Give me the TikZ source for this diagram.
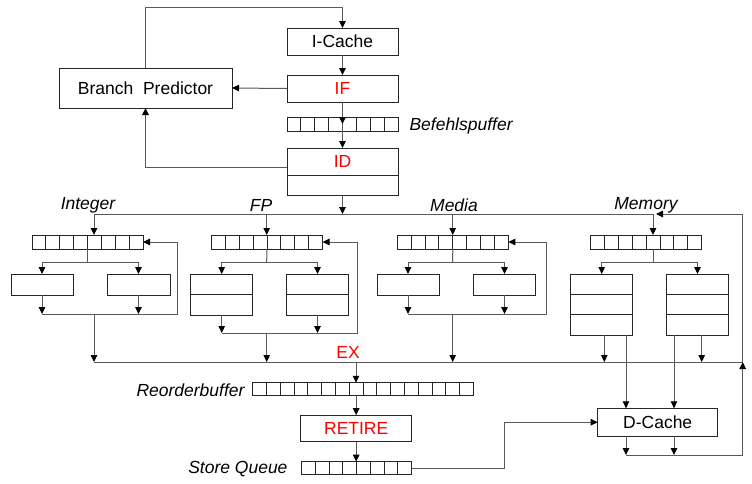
\documentclass[tikz,border=0pt]{standalone}
\usepackage{fontspec}
\setmainfont{Liberation Sans}
\usetikzlibrary{arrows.meta,positioning,calc}

\tikzset{
  unit/.style={draw=black!85, line width=1pt, inner sep=0pt, outer sep=0pt},
  stage/.style={unit, minimum width=111pt, minimum height=27pt},
  redstage/.style={stage, text=red},
  fifo/.style={unit, minimum width=111pt, minimum height=14pt},
  alu/.style={unit, minimum width=62pt, minimum height=21pt},
  fpcell/.style={unit, minimum width=62pt, minimum height=20.5pt},
  memcell/.style={unit, minimum width=62pt, minimum height=20.4pt},
  tag/.style={inner sep=0pt, font=\fontsize{17.5}{21}\selectfont\itshape},
  link/.style={draw=black!65, line width=1pt},
  flow/.style={link, ->}
}

% cell separators of a queue
\newcommand{\fifocells}[2]{%
  \pgfmathtruncatemacro\lastcell{#2-1}
  \foreach \k in {1,...,\lastcell}
    \draw[black!85] ($(#1.north west)!\k/#2!(#1.north east)$) -- ($(#1.south west)!\k/#2!(#1.south east)$);
}

\begin{document}
\begin{tikzpicture}[x=1pt, y=-1pt, line width=1pt,
    font=\fontsize{17.5}{21}\selectfont,
    >={Triangle[length=7pt,width=6.5pt,color=black]}]
  \useasboundingbox (0,0) rectangle (752,483);

  % front end
  \node[stage] (icache) at (342.5,41.5) {I-Cache};
  \node[redstage] (if) at (342.5,88.5) {IF};
  \node[unit, minimum width=173pt, minimum height=40pt] (bp) at (145.5,88) {Branch\ \ Predictor};
  \node[fifo] (befq) at (342.5,124) {};
  \fifocells{befq}{8}
  \node[tag, anchor=west] (beflbl) at (409,126) {Befehlspuffer};
  \node[redstage] (id) at (342.5,161.5) {ID};
  \node[stage, minimum height=20pt, below=0pt of id] (idx) {};

  \draw[flow] (bp.north) -- ++(0,-61) -| (icache.north);
  \draw[flow] (icache) -- (if);
  \draw[flow] (if.west) -- (bp.east);
  \draw[flow] (if) -- (befq.center);
  \draw[flow] (befq.center) -- (id);
  \draw[flow] ([yshift=-5.5pt]id.west) -| (bp.south);

  % issue bus
  \coordinate (intin) at (94,214);
  \coordinate (fpin) at (266.7,214);
  \coordinate (mdin) at (452.7,214);
  \coordinate (memin) at (653,214);
  \draw[link] (intin) -- (memin);
  \draw[flow] (idx) -- (idx |- intin);

  \node[tag] (intlbl) at (88,205) {Integer};
  \node[tag] (fplbl) at (261,205) {FP};
  \node[tag] (mdlbl) at (454,205) {Media};
  \node[tag] (memlbl) at (646,205) {Memory};

  % result bus
  \coordinate (exL) at (94,362);
  \coordinate (exR) at (742.7,362);
  \draw[link] (exL) -- (exR);
  \node[text=red] (exlbl) at (348,352) {EX};

  % integer
  \node[fifo] (intq) at (87.5,242) {};
  \fifocells{intq}{8}
  \node[alu] (inta) at (42,284.5) {};
  \node[alu, minimum width=63pt] (intb) at (138.5,284.5) {};
  \coordinate (intsplit) at (87.5,262);
  \coordinate (intjoin) at (94,314);
  \coordinate (intback) at (177,314);
  \draw[flow] (intin) -- (intin |- intq.north);
  \draw[link] (intq) -- (intsplit);
  \draw[flow] (intsplit) -| (inta);
  \draw[flow] (intsplit) -| (intb);
  \draw[flow] (inta) -- (inta |- intjoin);
  \draw[flow] (intb) -- (intb |- intjoin);
  \draw[flow] (inta |- intjoin) -- (intback) |- (intq.east);
  \draw[flow] (intjoin) -- (intjoin |- exL);

  % floating point
  \node[fifo] (fpq) at (267,242) {};
  \fifocells{fpq}{8}
  \node[fpcell] (fpa1) at (221.7,284.25) {};
  \node[fpcell, below=0pt of fpa1] (fpa2) {};
  \node[fpcell] (fpb1) at (317.5,284.25) {};
  \node[fpcell, below=0pt of fpb1] (fpb2) {};
  \coordinate (fpsplit) at (266.7,262);
  \coordinate (fpjoin) at (266.7,333);
  \coordinate (fpback) at (357.7,333);
  \draw[flow] (fpin) -- (fpin |- fpq.north);
  \draw[link] (fpq) -- (fpsplit);
  \draw[flow] (fpsplit) -| (fpa1);
  \draw[flow] (fpsplit) -| (fpb1);
  \draw[flow] (fpa2) -- (fpa2 |- fpjoin);
  \draw[flow] (fpb2) -- (fpb2 |- fpjoin);
  \draw[flow] (fpa2 |- fpjoin) -- (fpback) |- (fpq.east);
  \draw[flow] (fpjoin) -- (fpjoin |- exL);

  % media
  \node[fifo] (mdq) at (452.8,242) {};
  \fifocells{mdq}{8}
  \node[alu] (mda) at (408,284.5) {};
  \node[alu] (mdb) at (504.5,284.5) {};
  \coordinate (mdsplit) at (452.7,262);
  \coordinate (mdjoin) at (452.7,314);
  \coordinate (mdback) at (546.7,314);
  \draw[flow] (mdin) -- (mdin |- mdq.north);
  \draw[link] (mdq) -- (mdsplit);
  \draw[flow] (mdsplit) -| (mda);
  \draw[flow] (mdsplit) -| (mdb);
  \draw[flow] (mda) -- (mda |- mdjoin);
  \draw[flow] (mdb) -- (mdb |- mdjoin);
  \draw[flow] (mda |- mdjoin) -- (mdback) |- (mdq.east);
  \draw[flow] (mdjoin) -- (mdjoin |- exL);

  % memory
  \node[fifo] (memq) at (646.2,242) {};
  \fifocells{memq}{8}
  \node[memcell] (mema1) at (601.7,284.2) {};
  \node[memcell, below=0pt of mema1] (mema2) {};
  \node[memcell, below=0pt of mema2] (mema3) {};
  \node[memcell] (memb1) at (697.5,284.2) {};
  \node[memcell, below=0pt of memb1] (memb2) {};
  \node[memcell, below=0pt of memb2] (memb3) {};
  \coordinate (memsplit) at (653,262);
  \coordinate (memfb) at (656,214);
  \draw[flow] (memin) -- (memin |- memq.north);
  \draw[link] (memsplit |- memq.south) -- (memsplit);
  \draw[flow] (memsplit) -| (mema1);
  \draw[flow] (memsplit) -| (memb1);
  \draw[flow] (exR) |- (memfb);

  % retire
  \node[fifo, minimum width=220.8pt, minimum height=12.5pt] (rob) at (363,389) {};
  \fifocells{rob}{16}
  \node[tag, anchor=east] (roblbl) at (245,390) {Reorderbuffer};
  \node[redstage, minimum height=26.7pt] (retire) at (356.2,428.5) {RETIRE};
  \node[fifo, minimum width=110pt, minimum height=13.3pt] (sq) at (356.7,468.3) {};
  \fifocells{sq}{8}
  \node[tag, anchor=east] (sqlbl) at (288,469) {Store Queue};
  \coordinate (robin) at (356,362);
  \draw[flow] (robin) -- (robin |- rob.north);
  \draw[flow] (rob.south -| retire) -- (retire);
  \draw[flow] (retire) -- (retire |- sq.north);

  % data cache
  \node[unit, minimum width=120pt, minimum height=27.7pt] (dcache) at (657.7,422.2) {D-Cache};
  \coordinate (sqbend) at (504.3,422.2);
  \draw[flow] (sq.east) -| (sqbend) -- (dcache.west);
  \coordinate (memaex) at ([xshift=2.6pt]mema3.south);
  \coordinate (memadc) at ([xshift=24.3pt]mema3.south);
  \coordinate (membdc) at ([xshift=-23.5pt]memb3.south);
  \coordinate (membex) at ([xshift=4.2pt]memb3.south);
  \coordinate (dcjoin) at (742.7,455);
  \draw[flow] (memaex) -- (memaex |- exR);
  \draw[flow] (membex) -- (membex |- exR);
  \draw[flow] (memadc) -- (memadc |- dcache.north);
  \draw[flow] (membdc) -- (membdc |- dcache.north);
  \draw[flow] (memadc |- dcache.south) -- (memadc |- dcjoin);
  \draw[flow] (membdc |- dcache.south) -- (membdc |- dcjoin);
  \draw[flow] (memadc |- dcjoin) -- (dcjoin) -- (exR);
\end{tikzpicture}
\end{document}
